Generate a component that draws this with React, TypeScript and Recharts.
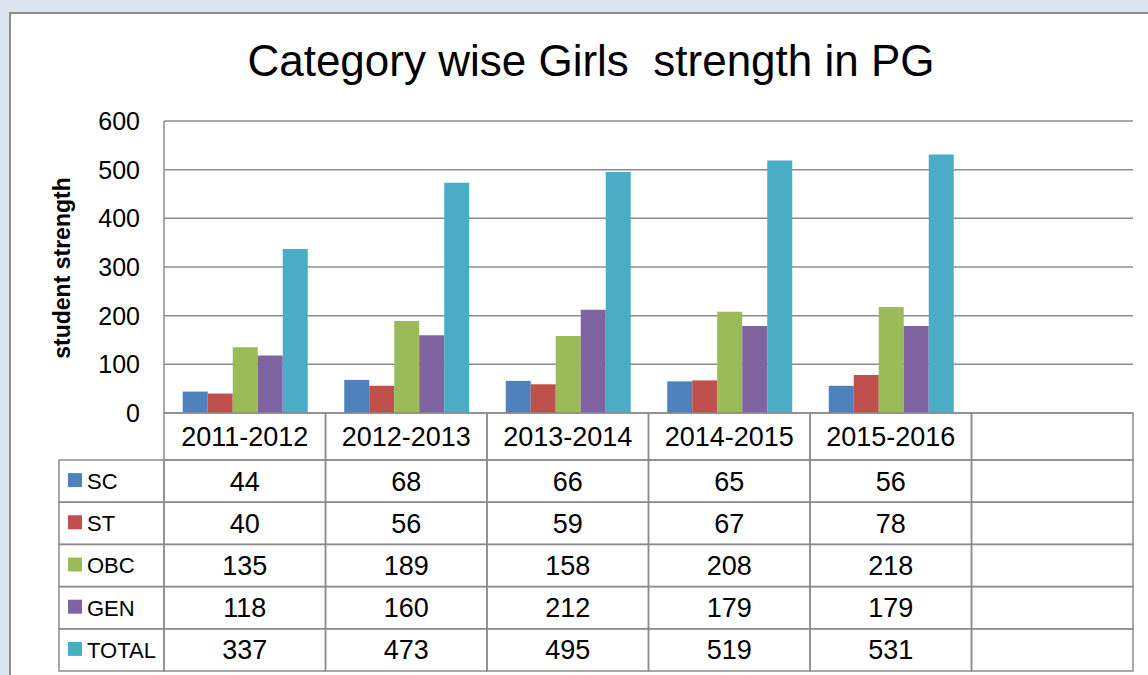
import { Bar, BarChart, CartesianGrid, XAxis, YAxis } from "recharts";

const years = ["2011-2012", "2012-2013", "2013-2014", "2014-2015", "2015-2016", ""];
const scValues = [44, 68, 66, 65, 56, null];
const stValues = [40, 56, 59, 67, 78, null];
const obcValues = [135, 189, 158, 208, 218, null];
const genValues = [118, 160, 212, 179, 179, null];
const totalValues = [337, 473, 495, 519, 531, null];
const yTicks = [0, 100, 200, 300, 400, 500, 600];

const series = [
  { key: "SC", values: scValues, color: "#4F81BD" },
  { key: "ST", values: stValues, color: "#C0504D" },
  { key: "OBC", values: obcValues, color: "#9BBB59" },
  { key: "GEN", values: genValues, color: "#8064A2" },
  { key: "TOTAL", values: totalValues, color: "#4BACC6" },
];

const data = years.map((year, i) => {
  const row: Record<string, string | number | null> = { year };
  series.forEach((s) => {
    row[s.key] = s.values[i];
  });
  return row;
});

const FONT = "'Liberation Sans', Arial, sans-serif";
const WIDTH = 1148;
const HEIGHT = 675;
const X_AXIS_HEIGHT = 262;
const MARGIN = { top: 121, right: 15, left: 104, bottom: 0 };
const Y_AXIS_WIDTH = 60;
const PLOT_WIDTH = WIDTH - MARGIN.left - MARGIN.right - Y_AXIS_WIDTH;
const BAND = PLOT_WIDTH / years.length;
const HEADER_H = 47;
const ROW_H = 42.2;
const GRID = "#8c8c8c";
const LEGEND_LEFT = 59;

// draws one column of the data table under each category
function TableTick(props: any) {
  const { x, y, payload, index } = props;
  const left = x - BAND / 2;
  const rowsTop = y + HEADER_H;
  const plotLeft = MARGIN.left + Y_AXIS_WIDTH;

  return (
    <g>
      <rect x={left} y={y} width={BAND} height={HEADER_H} fill="none" stroke={GRID} strokeWidth={1.5} />
      <text x={x} y={y + HEADER_H / 2} dy="0.355em" textAnchor="middle" fontSize={27} fontFamily={FONT} fill="#000">
        {payload.value}
      </text>
      {series.map((s, r) => {
        const top = rowsTop + r * ROW_H;
        const v = s.values[index];
        return (
          <g key={s.key}>
            <rect x={left} y={top} width={BAND} height={ROW_H} fill="none" stroke={GRID} strokeWidth={1.5} />
            {v != null && (
              <text x={x} y={top + ROW_H / 2} dy="0.355em" textAnchor="middle" fontSize={27} fontFamily={FONT} fill="#000">
                {v}
              </text>
            )}
          </g>
        );
      })}
      {index === 0 &&
        series.map((s, r) => {
          const top = rowsTop + r * ROW_H;
          return (
            <g key={`legend-${s.key}`}>
              <rect
                x={LEGEND_LEFT}
                y={top}
                width={plotLeft - LEGEND_LEFT}
                height={ROW_H}
                fill="none"
                stroke={GRID}
                strokeWidth={1.5}
              />
              <rect x={LEGEND_LEFT + 9} y={top + ROW_H / 2 - 8} width={14} height={14} fill={s.color} />
              <text x={LEGEND_LEFT + 28} y={top + ROW_H / 2} dy="0.355em" fontSize={22} fontFamily={FONT} fill="#000">
                {s.key}
              </text>
            </g>
          );
        })}
    </g>
  );
}

export default function App() {
  return (
    <div
      style={{
        position: "absolute",
        left: 0,
        top: 0,
        width: WIDTH,
        height: HEIGHT,
        overflow: "hidden",
        background: "#dbe5f1",
        fontFamily: FONT,
      }}
    >
      <div
        style={{
          position: "absolute",
          left: 9,
          top: 12,
          width: 1200,
          height: 720,
          background: "#fff",
          border: "2px solid #8e8e8e",
        }}
      />
      <div
        style={{
          position: "absolute",
          left: 0,
          width: 1182,
          top: 39,
          textAlign: "center",
          fontSize: 44,
          lineHeight: "44px",
          whiteSpace: "pre",
          color: "#000",
        }}
      >
        {"Category wise Girls  strength in PG"}
      </div>
      <div
        style={{
          position: "absolute",
          left: 62 - 120,
          top: 268 - 14,
          width: 240,
          height: 28,
          lineHeight: "28px",
          textAlign: "center",
          transform: "rotate(-90deg)",
          fontSize: 23,
          fontWeight: "bold",
          color: "#000",
        }}
      >
        student strength
      </div>
      <BarChart
        width={WIDTH}
        height={HEIGHT}
        data={data}
        margin={MARGIN}
        barCategoryGap="11.6%"
        barGap={0}
        style={{ position: "absolute", left: 0, top: 0 }}
      >
        <CartesianGrid vertical={false} stroke={GRID} strokeWidth={1.5} />
        <YAxis
          width={Y_AXIS_WIDTH}
          domain={[0, 600]}
          ticks={yTicks}
          interval={0}
          tickLine={false}
          tickSize={6}
          tickMargin={18}
          axisLine={{ stroke: GRID, strokeWidth: 1.5 }}
          tick={{ fontSize: 25, fill: "#000", fontFamily: FONT }}
        />
        <XAxis
          dataKey="year"
          interval={0}
          axisLine={false}
          tickLine={false}
          tickSize={0}
          tickMargin={0}
          height={X_AXIS_HEIGHT}
          tick={<TableTick />}
        />
        {series.map((s) => (
          <Bar key={s.key} dataKey={s.key} fill={s.color} isAnimationActive={false} />
        ))}
      </BarChart>
    </div>
  );
}
